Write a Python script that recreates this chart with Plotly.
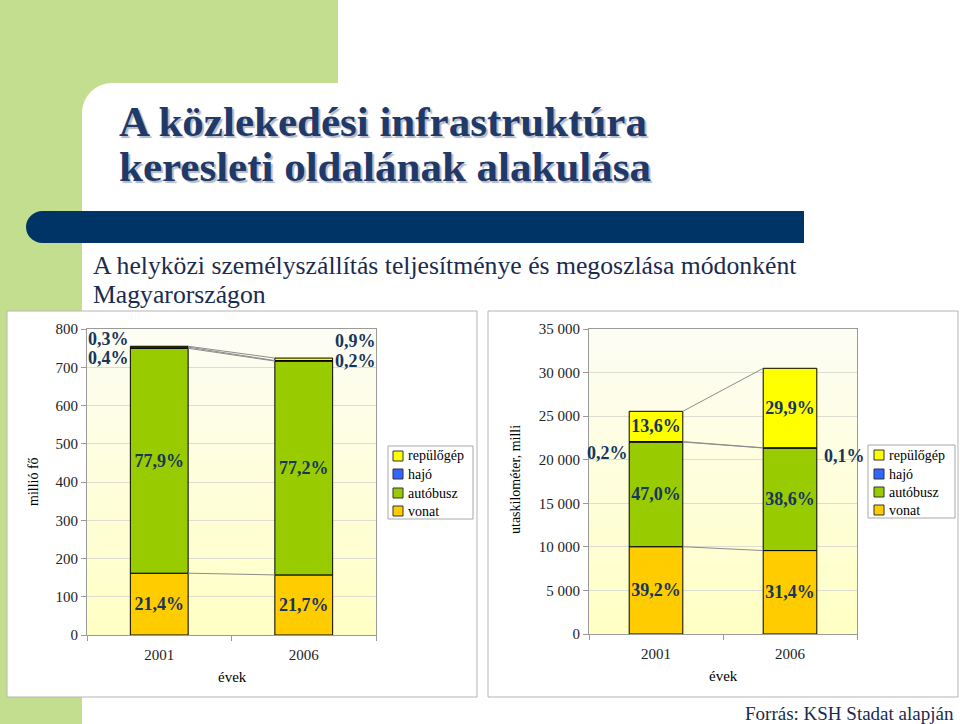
import plotly.graph_objects as go

W, H = 960, 724

# ---------------- data ----------------
years = ["2001", "2006"]
series_names = ["vonat", "autóbusz", "hajó", "repülőgép"]
series_colors = ["#FFCC00", "#99CC00", "#3366FF", "#FFFF00"]

# left chart: millió fő
left_vonat = [161.6, 157.1]
left_autobusz = [588.0, 559.0]
left_hajo = [3.0, 1.4]
left_repulo = [2.3, 6.5]
left_labels = {
    "vonat": ["21,4%", "21,7%"],
    "autóbusz": ["77,9%", "77,2%"],
    "hajó": ["0,4%", "0,2%"],
    "repülőgép": ["0,3%", "0,9%"],
}

# right chart: utaskilométer, millió
right_vonat = [10018, 9574]
right_autobusz = [12010, 11769]
right_hajo = [51, 30]
right_repulo = [3475, 9117]
right_labels = {
    "vonat": ["39,2%", "31,4%"],
    "autóbusz": ["47,0%", "38,6%"],
    "hajó": ["0,2%", "0,1%"],
    "repülőgép": ["13,6%", "29,9%"],
}

left_ticks = [0, 100, 200, 300, 400, 500, 600, 700, 800]
right_ticks = [0, 5000, 10000, 15000, 20000, 25000, 30000, 35000]

title_lines = ["A közlekedési infrastruktúra", "keresleti oldalának alakulása"]
subtitle_lines = ["A helyközi személyszállítás teljesítménye és megoszlása módonként", "Magyarországon"]
source_text = "Forrás: KSH Stadat alapján"

# ---------------- helpers ----------------
SERIF = "Liberation Serif, Times New Roman, serif"
NAVY = "#17365D"


def px(x):
    return x / W


def py(y):
    return 1 - y / H


fig = go.Figure()
shapes = []
annotations = []


def rect(x0, y0, x1, y1, fill, line=None, kind="rect"):
    shapes.append(dict(type=kind, xref="paper", yref="paper",
                       x0=px(x0), x1=px(x1), y0=py(y1), y1=py(y0),
                       fillcolor=fill, layer="below",
                       line=dict(width=1 if line else 0, color=line or fill)))


# slide decoration
GREEN = "#C3DE8E"
rect(0, 0, 338, 300, GREEN)
rect(0, 0, 82, 724, GREEN)
r = 30
rect(82 + r, 83, 960, 724, "white")
rect(82, 83 + r, 960, 724, "white")
rect(82, 83, 82 + 2 * r, 83 + 2 * r, "white", kind="circle")
# navy band
rect(42, 211, 804, 243, "#003366")
rect(26, 211, 59, 243, "#003366", kind="circle")
# chart boxes
rect(7, 311, 477, 697, "white", line="#B4B4B4")
rect(488, 311, 958, 697, "white", line="#B4B4B4")

# plot areas (pixel)
LEFT_AREA = (87, 329, 376, 635)
RIGHT_AREA = (589, 329, 857, 634)

# gradient backgrounds
N = 40
top_c = (253, 253, 244)
bot_c = (255, 255, 196)
for (x0, y0, x1, y1) in (LEFT_AREA, RIGHT_AREA):
    for i in range(N):
        t = i / (N - 1)
        c = tuple(int(round(top_c[k] + (bot_c[k] - top_c[k]) * t)) for k in range(3))
        ya = y0 + (y1 - y0) * i / N
        yb = y0 + (y1 - y0) * (i + 1) / N + 0.5
        rect(x0, ya, x1, min(yb, y1), "rgb(%d,%d,%d)" % c)

xpos = [0, 1]
BARW = 0.4
LABEL_FONT = dict(family=SERIF, size=18, color=NAVY, weight="bold")


def add_chart(xa, ya, values, labels, yrange, ylen_px, yshifts, xshifts):
    cum = [0.0, 0.0]
    tops = []
    for name, color, vals in zip(series_names, series_colors, values):
        small = [v / yrange * ylen_px < 20 for v in vals]
        txt = ["" if s else l for s, l in zip(small, labels[name])]
        fig.add_trace(go.Bar(
            x=xpos, y=vals, base=cum[:], name=name, width=BARW,
            marker=dict(color=color, line=dict(color="#000000", width=1)),
            text=txt, textposition="inside", insidetextanchor="middle",
            textangle=0, constraintext="none", textfont=LABEL_FONT,
            xaxis=xa, yaxis=ya, showlegend=False, hoverinfo="skip",
        ))
        for j in range(2):
            if small[j]:
                mid = cum[j] + vals[j] / 2
                annotations.append(dict(
                    x=xpos[j] + (-BARW / 2 if j == 0 else BARW / 2), y=mid,
                    xref=xa, yref=ya, text=labels[name][j],
                    showarrow=False, xanchor="right" if j == 0 else "left",
                    yanchor="middle", yshift=yshifts[name][j], xshift=xshifts[j],
                    font=LABEL_FONT))
        cum = [cum[j] + vals[j] for j in range(2)]
        tops.append(cum[:])
    for t in tops:
        fig.add_trace(go.Scatter(
            x=[xpos[0] + BARW / 2, xpos[1] - BARW / 2], y=t, mode="lines",
            line=dict(color="#8C8C8C", width=1), showlegend=False,
            xaxis=xa, yaxis=ya, hoverinfo="skip"))


add_chart("x", "y",
          [left_vonat, left_autobusz, left_hajo, left_repulo],
          left_labels, 800, 306,
          {"hajó": [-10, 0], "repülőgép": [8, 18]}, [1, 0])
add_chart("x2", "y2",
          [right_vonat, right_autobusz, right_hajo, right_repulo],
          right_labels, 35000, 305,
          {"hajó": [-11, -8], "repülőgép": [0, 0]}, [1, 5])


# custom legends (box, swatches, labels)
def add_legend(x0, y0, x1, y1, sw_x, txt_x, ys):
    rect(x0, y0, x1, y1, "white", line="#A8A8A8")
    for name, color, yc in zip(series_names[::-1], series_colors[::-1], ys):
        shapes.append(dict(type="rect", xref="paper", yref="paper",
                           x0=px(sw_x), x1=px(sw_x + 10), y0=py(yc + 5), y1=py(yc - 5),
                           fillcolor=color, layer="above",
                           line=dict(width=1, color="#333")))
        annotations.append(dict(x=px(txt_x), y=py(yc), xref="paper", yref="paper",
                                text=name, showarrow=False, xanchor="left",
                                yanchor="middle",
                                font=dict(family=SERIF, size=14, color="#000")))


add_legend(388, 446, 473, 519, 393, 406, [456, 474, 493, 511])
add_legend(868, 445, 955, 518, 874, 887, [455, 474, 492, 510])

# ---------------- text ----------------
for i, line in enumerate(title_lines):
    yb = 138 + 45 * i
    annotations.append(dict(
        x=px(117), y=py(yb + 9), xref="paper", yref="paper",
        text=line, showarrow=False, xanchor="left", yanchor="bottom",
        font=dict(family=SERIF, size=43, color="#1F3A68", weight="bold",
                  shadow="2px 2px 1px #B4B8C6")))

for i, line in enumerate(subtitle_lines):
    annotations.append(dict(
        x=px(91), y=py(265 + 29 * i), xref="paper", yref="paper", text=line,
        showarrow=False, xanchor="left", yanchor="middle",
        font=dict(family=SERIF, size=25.7, color="#1A2B50")))

annotations.append(dict(
    x=px(956), y=py(713), xref="paper", yref="paper", text=source_text,
    showarrow=False, xanchor="right", yanchor="middle",
    font=dict(family=SERIF, size=19, color="#1A2B50")))

# axis titles
AXT = dict(family=SERIF, size=14, color="#000")
for xx, yy, txt, ang in ((33, 482, "millió fő", -90),
                         (515, 480, "utaskilométer, milli", -90),
                         (232, 677, "évek", 0),
                         (723, 676, "évek", 0)):
    annotations.append(dict(x=px(xx), y=py(yy), xref="paper", yref="paper",
                            text=txt, textangle=ang, showarrow=False,
                            xanchor="center", yanchor="middle",
                            font=AXT | (dict(size=15) if ang == 0 else {})))

# ---------------- axes ----------------
tickfont = dict(family=SERIF, size=15, color="#222")


def xaxis_cfg(area):
    return dict(domain=[px(area[0]), px(area[2])], range=[-0.5, 1.5],
                tickvals=xpos, ticktext=years, ticks="", tickfont=tickfont,
                showgrid=False, zeroline=False, showline=True, mirror=True,
                linecolor="#9A9A9A", linewidth=1, ticklabelstandoff=6,
                minor=dict(tickvals=[-0.5, 0.5, 1.5], ticks="outside", ticklen=5,
                           tickcolor="#9A9A9A", showgrid=False),
                fixedrange=True)


def yaxis_cfg(area, rng, ticks, anchor, fmt):
    return dict(domain=[py(area[3]), py(area[1])], range=rng, tickvals=ticks,
                tickformat=fmt, ticks="outside", ticklen=5, tickcolor="#9A9A9A",
                tickfont=tickfont, showgrid=True, gridcolor="#DDDDD2", gridwidth=1,
                zeroline=False, showline=True, mirror=True, linecolor="#9A9A9A",
                linewidth=1, anchor=anchor, fixedrange=True)


fig.update_layout(
    width=W, height=H, margin=dict(l=0, r=0, t=0, b=0, pad=0, autoexpand=False),
    paper_bgcolor="white", plot_bgcolor="rgba(0,0,0,0)",
    barmode="overlay", separators=", ",
    xaxis=xaxis_cfg(LEFT_AREA),
    yaxis=yaxis_cfg(LEFT_AREA, [0, 800], left_ticks, "x", "d"),
    xaxis2=xaxis_cfg(RIGHT_AREA) | dict(anchor="y2"),
    yaxis2=yaxis_cfg(RIGHT_AREA, [0, 35000], right_ticks, "x2", ",d"),
    shapes=shapes, annotations=annotations, showlegend=False,
)

post = ("document.documentElement.style.margin='0px';"
        "document.body.style.margin='0px';document.body.style.padding='0px';"
        "document.body.style.overflow='hidden';"
        "var gd=document.getElementById('{plot_id}');"
        "gd.style.position='absolute';gd.style.top='0px';gd.style.left='0px';")

fig.write_html("out.html", config={"displayModeBar": False}, post_script=post)
